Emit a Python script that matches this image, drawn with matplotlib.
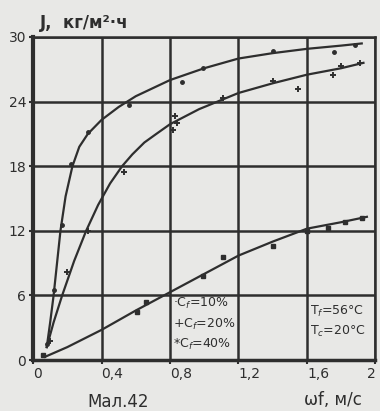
import matplotlib.pyplot as plt

# curves (lines)
x_10 = [0.08, 0.10, 0.12, 0.14, 0.16, 0.19, 0.23, 0.27, 0.32, 0.40, 0.50, 0.60, 0.80, 1.00, 1.20, 1.40, 1.60, 1.80, 1.92]
y_10 = [1.2, 3.5, 6.0, 9.0, 12.0, 15.2, 18.0, 19.8, 21.0, 22.3, 23.5, 24.5, 26.0, 27.1, 28.0, 28.5, 28.9, 29.2, 29.4]
x_20 = [0.08, 0.12, 0.17, 0.24, 0.31, 0.38, 0.45, 0.52, 0.58, 0.65, 0.72, 0.80, 0.97, 1.20, 1.40, 1.60, 1.80, 1.93]
y_20 = [1.2, 3.5, 6.0, 9.2, 12.0, 14.4, 16.4, 18.0, 19.1, 20.2, 21.0, 21.9, 23.3, 24.8, 25.7, 26.5, 27.1, 27.6]
x_40 = [0.07, 0.20, 0.40, 0.60, 0.80, 1.00, 1.20, 1.40, 1.60, 1.80, 1.95]
y_40 = [0.3, 1.2, 2.8, 4.6, 6.3, 8.0, 9.7, 11.0, 12.2, 12.8, 13.3]

# measured points
px_10 = [0.08, 0.12, 0.17, 0.22, 0.32, 0.56, 0.87, 0.99, 1.40, 1.76, 1.88]
py_10 = [1.5, 6.5, 12.5, 18.2, 21.2, 23.7, 25.8, 27.1, 28.7, 28.6, 29.3]
px_20 = [0.10, 0.20, 0.32, 0.53, 0.82, 0.83, 0.84, 1.11, 1.40, 1.55, 1.75, 1.80, 1.91]
py_20 = [1.8, 8.2, 12.0, 17.5, 21.4, 22.7, 22.0, 24.3, 25.9, 25.2, 26.5, 27.3, 27.6]
px_40 = [0.06, 0.61, 0.66, 0.99, 1.11, 1.40, 1.60, 1.72, 1.82, 1.92]
py_40 = [0.5, 4.5, 5.4, 7.8, 9.6, 10.6, 12.0, 12.3, 12.8, 13.2]

x_ticks = [0, 0.4, 0.8, 1.2, 1.6, 2.0]
x_labels = ['0', '0,4', '0,8', '1,2', '1,6', '2']
y_ticks = [0, 6, 12, 18, 24, 30]

paper = '#e8e8e6'
ink = '#2e2e2e'

fig = plt.figure(figsize=(3.8, 4.11), dpi=100, facecolor=paper)
ax = fig.add_axes([0.087, 0.124, 0.901, 0.786])
ax.set_facecolor(paper)

ax.plot(x_10, y_10, color=ink, lw=1.6)
ax.plot(x_20, y_20, color=ink, lw=1.6)
ax.plot(x_40, y_40, color=ink, lw=1.6)
ax.plot(px_10, py_10, '.', color=ink, ms=5)
ax.plot(px_20, py_20, '+', color=ink, ms=5, mew=1.4)
ax.plot(px_40, py_40, 's', color=ink, ms=3)

ax.set_xlim(0, 2)
ax.set_ylim(0, 30)
ax.set_xticks(x_ticks)
ax.set_xticklabels(x_labels)
ax.set_yticks(y_ticks)
ax.grid(True, color=ink, lw=1.8)
for s in ax.spines.values():
    s.set_color(ink)
    s.set_linewidth(1.8)
ax.spines['left'].set_linewidth(3)
ax.spines['bottom'].set_linewidth(2.5)
ax.tick_params(colors=ink, labelsize=10, length=3, width=1.5, pad=2)
xl = ax.get_xticklabels()
for lab in xl[:-1]:
    lab.set_horizontalalignment('left')
xl[-1].set_horizontalalignment('right')

ax.text(0.02, 1.015, 'J,  кг/м²·ч', transform=ax.transAxes, fontsize=12,
        color=ink, fontweight='bold', va='bottom')

ax.text(0.82, 4.9, '·C$_f$=10%', fontsize=9, color=ink)
ax.text(0.82, 3.0, '+C$_f$=20%', fontsize=9, color=ink)
ax.text(0.82, 1.1, '*C$_f$=40%', fontsize=9, color=ink)
ax.text(1.62, 4.2, 'T$_f$=56°C', fontsize=9, color=ink)
ax.text(1.62, 2.3, 'T$_c$=20°C', fontsize=9, color=ink)

fig.text(0.23, 0.01, 'Мал.42', fontsize=12, color=ink)
fig.text(0.80, 0.015, 'ωf, м/с', fontsize=12, color=ink)

fig.savefig('out.png', dpi=100, facecolor=paper)
